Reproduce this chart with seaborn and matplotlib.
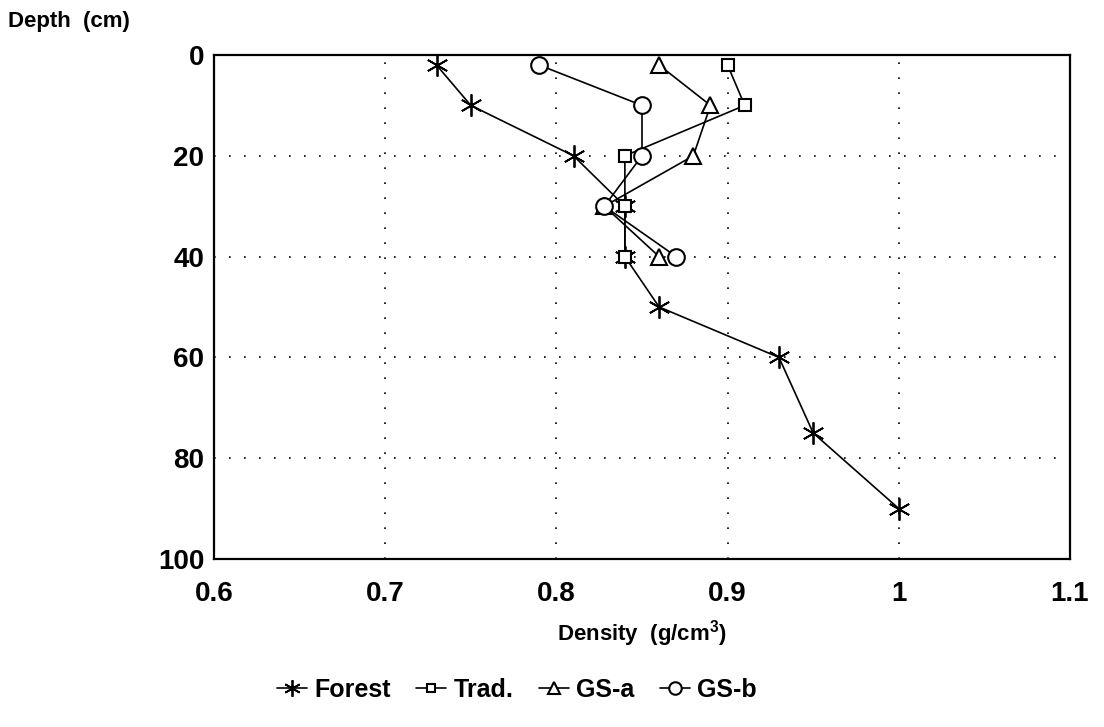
import matplotlib
matplotlib.use("Agg")
import matplotlib.pyplot as plt
import numpy as np
import pandas as pd
import seaborn as sns

# ---- data ----
sites = ["Forest", "Trad.", "GS-a", "GS-b"]
forest_depth = [2, 10, 20, 30, 40, 50, 60, 75, 90]
forest_density = [0.73, 0.75, 0.81, 0.84, 0.84, 0.86, 0.93, 0.95, 1.00]
trad_depth = [2, 10, 20, 30, 40]
trad_density = [0.90, 0.91, 0.84, 0.84, 0.84]
gsa_depth = [2, 10, 20, 30, 40]
gsa_density = [0.86, 0.89, 0.88, 0.828, 0.86]
gsb_depth = [2, 10, 20, 30, 40]
gsb_density = [0.79, 0.85, 0.85, 0.828, 0.87]

x_ticks = [0.6, 0.7, 0.8, 0.9, 1.0, 1.1]
x_ticklabels = ["0.6", "0.7", "0.8", "0.9", "1", "1.1"]
y_ticks = [0, 20, 40, 60, 80, 100]
y_ticklabels = ["0", "20", "40", "60", "80", "100"]

series = {
    "Forest": (forest_density, forest_depth),
    "Trad.": (trad_density, trad_depth),
    "GS-a": (gsa_density, gsa_depth),
    "GS-b": (gsb_density, gsb_depth),
}

sns.set_theme(style="white")
plt.rcParams["font.family"] = ["Liberation Sans", "DejaVu Sans"]
plt.rcParams["font.weight"] = "bold"
plt.rcParams["text.color"] = "black"
plt.rcParams["axes.labelcolor"] = "black"
plt.rcParams["xtick.color"] = "black"
plt.rcParams["ytick.color"] = "black"
plt.rcParams["mathtext.fontset"] = "custom"
plt.rcParams["mathtext.rm"] = "Liberation Sans:bold"
plt.rcParams["mathtext.bf"] = "Liberation Sans:bold"
plt.rcParams["mathtext.default"] = "bf"

fig = plt.figure(figsize=(11.04, 7.27), dpi=100)
ax = fig.add_axes([214 / 1104, 1 - 559 / 727, (1070 - 214) / 1104, (559 - 55) / 727])

marker_map = {"Forest": (6, 2, 0), "Trad.": "s", "GS-a": "^", "GS-b": "o"}
msize_map = {"Forest": 16, "Trad.": 8, "GS-a": 11, "GS-b": 12}
mew_map = {"Forest": 1.3, "Trad.": 1.5, "GS-a": 1.5, "GS-b": 1.5}

handles = []
for name in sites:
    dens, dep = series[name]
    d = pd.DataFrame({"Density": dens, "Depth": dep})
    n_before = len(ax.get_lines())
    sns.lineplot(data=d, x="Density", y="Depth", sort=False, estimator=None,
                 color="black", linewidth=1.2, marker=marker_map[name],
                 markersize=msize_map[name], markerfacecolor="white",
                 markeredgecolor="black", markeredgewidth=mew_map[name],
                 ax=ax, legend=False)
    handles.append(ax.get_lines()[n_before])

ax.set_xlim(0.6, 1.1)
ax.set_ylim(100, 0)
ax.set_xticks(x_ticks)
ax.set_xticklabels(x_ticklabels)
ax.set_yticks(y_ticks)
ax.set_yticklabels(y_ticklabels)
ax.tick_params(axis="both", direction="in", length=6, width=1.2, colors="black",
               labelsize=20)
ax.tick_params(axis="x", pad=16)
ax.tick_params(axis="y", pad=7)
for lab in ax.get_xticklabels() + ax.get_yticklabels():
    lab.set_fontweight("bold")

ax.grid(True, color="black", linestyle=(0, (1, 8)), linewidth=1.2)
for sp in ax.spines.values():
    sp.set_visible(True)
    sp.set_color("black")
    sp.set_linewidth(1.6)

ax.set_ylabel("")
ax.set_xlabel("Density  (g/cm$^{3}$)", fontsize=16, fontweight="bold", color="black")
ax.xaxis.set_label_coords(0.5, -0.118)

fig.text(8 / 1104, 1 - 22 / 727, "Depth  (cm)", fontsize=16, fontweight="bold",
         ha="left", va="center", color="black")

leg = fig.legend(handles, sites, loc="center", bbox_to_anchor=(517 / 1104, 1 - 690 / 727),
                 ncol=4, frameon=False, fontsize=18, handlelength=1.2,
                 handletextpad=0.3, columnspacing=1.0, numpoints=1, markerscale=0.75)
for t in leg.get_texts():
    t.set_fontweight("bold")
    t.set_color("black")

fig.savefig("out.png", dpi=100)
